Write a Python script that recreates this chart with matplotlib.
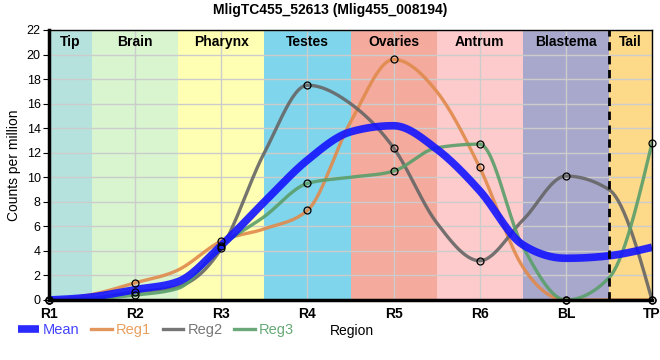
import matplotlib.pyplot as plt
import numpy as np

plt.rcParams['font.family'] = ['Liberation Sans', 'DejaVu Sans']

# dados (valores nas regioes, com marcador)
regioes = ['R1', 'R2', 'R3', 'R4', 'R5', 'R6', 'BL', 'TP']
reg1 = [0.0, 1.4, 4.8, 7.3, 19.6, 10.8, 0.0, 0.0]
reg2 = [0.0, 0.65, 4.2, 17.5, 12.4, 3.2, 10.1, 0.0]
reg3 = [0.0, 0.4, 4.4, 9.5, 10.5, 12.7, 0.0, 12.8]
media = [0.0, 0.85, 4.45, 11.4, 14.2, 8.9, 3.4, 4.3]

# valores das curvas nas fronteiras entre regioes (sem marcador)
reg1_fronteira = [0.45, 2.45, 5.8, 14.5, 17.0, 2.7, 0.0]
reg2_fronteira = [0.15, 1.1, 12.0, 16.0, 6.3, 6.5, 9.0]
reg3_fronteira = [0.1, 0.95, 6.8, 10.0, 12.4, 4.35, 1.8]
media_fronteira = [0.25, 1.5, 8.0, 13.7, 12.3, 4.5, 3.6]

bandas = ['Tip', 'Brain', 'Pharynx', 'Testes', 'Ovaries', 'Antrum', 'Blastema', 'Tail']
cores_bandas = ['#b5e2dd', '#d9f5d0', '#ffffb3', '#7fd5eb', '#f4aa9c',
                '#fdcbcb', '#a8a8cd', '#fdd98a']


def juntar(vals, fronteira):
    ys = []
    for i, v in enumerate(vals):
        ys.append(v)
        if i < len(fronteira):
            ys.append(fronteira[i])
    xs = np.arange(len(ys)) * 0.5
    return xs, np.array(ys)


def monotone(x, y, n=30):
    # interpolacao monotona (estilo d3 curveMonotoneX)
    x = np.asarray(x, float)
    y = np.asarray(y, float)
    h = np.diff(x)
    s = np.diff(y) / h
    m = np.zeros_like(y)
    for i in range(1, len(y) - 1):
        p = (s[i - 1] * h[i] + s[i] * h[i - 1]) / (h[i - 1] + h[i])
        m[i] = (np.sign(s[i - 1]) + np.sign(s[i])) * min(abs(s[i - 1]), abs(s[i]), 0.5 * abs(p))
    m[0] = (3 * s[0] - m[1]) / 2
    m[-1] = (3 * s[-1] - m[-2]) / 2
    xs, ys = [], []
    for i in range(len(h)):
        t = np.linspace(0, 1, n)
        h00 = 2 * t**3 - 3 * t**2 + 1
        h10 = t**3 - 2 * t**2 + t
        h01 = -2 * t**3 + 3 * t**2
        h11 = t**3 - t**2
        xs.append(x[i] + t * h[i])
        ys.append(h00 * y[i] + h10 * h[i] * m[i] + h01 * y[i + 1] + h11 * h[i] * m[i + 1])
    return np.concatenate(xs), np.concatenate(ys)


fig = plt.figure(figsize=(6.6, 3.6), dpi=100)
ax = fig.add_axes([49 / 660, 60 / 360, 603 / 660, 270 / 360])

x = np.arange(len(regioes))
limites = [0, 0.5, 1.5, 2.5, 3.5, 4.5, 5.5, 6.5, 7]
for i, (nome, cor) in enumerate(zip(bandas, cores_bandas)):
    ax.axvspan(limites[i], limites[i + 1], color=cor, lw=0, zorder=0)
    ax.text((limites[i] + limites[i + 1]) / 2, 21.6, nome, ha='center', va='top',
            fontsize=10, fontweight='bold', zorder=5)
ax.axvline(6.5, color='black', ls=(0, (3, 2)), lw=2, zorder=4)

ax.grid(True, color='#cccccc', lw=1, zorder=1)
for gl in ax.get_xgridlines() + ax.get_ygridlines():
    gl.set_zorder(1)

series = [(reg1, reg1_fronteira, '#e08a4c', 'Reg1'),
          (reg2, reg2_fronteira, '#666666', 'Reg2'),
          (reg3, reg3_fronteira, '#5a9e6a', 'Reg3')]
for ys, fr, cor, nome in series:
    xs_s, ys_s = monotone(*juntar(ys, fr))
    ax.plot(xs_s, ys_s, color=cor, lw=2.4, alpha=0.9, zorder=3, label=nome)

xm, ym = monotone(*juntar(media, media_fronteira))
ax.plot(xm, ym, color='#1414ff', lw=5.5, alpha=0.9, zorder=3.5, label='Mean',
        solid_capstyle='butt')

for ys, fr, cor, nome in series:
    ax.plot(x, ys, 'o', ms=5, mfc='none', mec='black', mew=0.9, zorder=6, clip_on=False)

ax.set_xlim(0, 7)
ax.set_ylim(0, 22)
ax.set_xticks(x)
ax.set_xticklabels(regioes, fontsize=10, fontweight='bold')
ax.set_yticks(np.arange(0, 23, 2))
ax.tick_params(axis='y', labelsize=9, length=4, pad=2)
ax.tick_params(axis='x', length=0, pad=5)
ax.set_ylabel('Counts per million', fontsize=10)
for lado in ['left', 'bottom']:
    ax.spines[lado].set_linewidth(2.5)
for lado in ['top', 'right']:
    ax.spines[lado].set_linewidth(1)
for sp in ax.spines.values():
    sp.set_zorder(7)

fig.text(330 / 660, 1 - 10 / 360, 'MligTC455_52613 (Mlig455_008194)', ha='center',
         va='center', fontsize=10, fontweight='bold')
fig.text(352 / 660, 1 - 331 / 360, 'Region', ha='center', va='center', fontsize=10)

hand, lab = ax.get_legend_handles_labels()
ordem = [3, 0, 1, 2]
leg = fig.legend([hand[i] for i in ordem], [lab[i] for i in ordem], loc='center left',
                 bbox_to_anchor=(5 / 660, 1 - 330 / 360), ncol=4, frameon=False,
                 handlelength=1.4, handletextpad=0.3, columnspacing=0.8, fontsize=10.5)
for t, c in zip(leg.get_texts(), ['#4444ff', '#e8a060', '#777777', '#66aa77']):
    t.set_color(c)

fig.savefig('out.png', dpi=100)
